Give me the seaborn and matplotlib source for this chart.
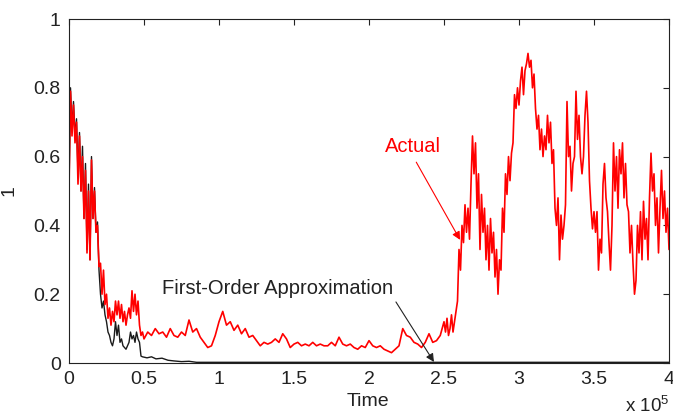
import numpy as np
import pandas as pd
import matplotlib
matplotlib.use("Agg")
import matplotlib.pyplot as plt
import seaborn as sns

# ---- data (time in units of 1e5) ----
actual_t_a = [i / 100 for i in range(0, 51)]
actual_v_a = [0.50, 0.79, 0.66, 0.75, 0.64, 0.70, 0.52, 0.66, 0.50, 0.60,
              0.42, 0.56, 0.32, 0.50, 0.30, 0.59, 0.42, 0.50, 0.38, 0.40,
              0.28, 0.29, 0.20, 0.27, 0.17, 0.20, 0.13, 0.16, 0.11, 0.15,
              0.12, 0.18, 0.14, 0.18, 0.13, 0.17, 0.12, 0.15, 0.11, 0.14,
              0.16, 0.13, 0.21, 0.15, 0.20, 0.14, 0.18, 0.11, 0.08, 0.09,
              0.07]
actual_t_b = [0.5 + 0.025 * i for i in range(1, 81)]
actual_v_b = [0.09, 0.08, 0.10, 0.085, 0.09, 0.075, 0.10, 0.08, 0.075, 0.09,
              0.08, 0.125, 0.09, 0.10, 0.075, 0.06, 0.045, 0.05, 0.08, 0.12,
              0.15, 0.11, 0.12, 0.095, 0.11, 0.085, 0.10, 0.075, 0.08, 0.065,
              0.05, 0.06, 0.055, 0.06, 0.07, 0.06, 0.085, 0.07, 0.045, 0.055,
              0.06, 0.05, 0.055, 0.05, 0.06, 0.05, 0.055, 0.05, 0.05, 0.06,
              0.05, 0.075, 0.055, 0.05, 0.055, 0.045, 0.04, 0.05, 0.045, 0.065,
              0.05, 0.045, 0.05, 0.04, 0.035, 0.03, 0.04, 0.05, 0.10, 0.08,
              0.075, 0.06, 0.055, 0.045, 0.06, 0.085, 0.06, 0.065, 0.08, 0.12]
actual_t_c = [2.5 + 0.01 * i for i in range(1, 151)]
actual_v_c = [0.09, 0.13, 0.08, 0.10, 0.14, 0.09, 0.12, 0.15, 0.18, 0.33,
              0.27, 0.40, 0.35, 0.46, 0.38, 0.45, 0.36, 0.52, 0.66, 0.55,
              0.64, 0.45, 0.55, 0.33, 0.49, 0.38, 0.45, 0.30, 0.40, 0.27,
              0.42, 0.32, 0.38, 0.25, 0.33, 0.20, 0.30, 0.27, 0.45, 0.38,
              0.55, 0.49, 0.60, 0.53, 0.61, 0.64, 0.78, 0.74, 0.80, 0.75,
              0.82, 0.86, 0.78, 0.85, 0.87, 0.90, 0.86, 0.88, 0.80, 0.84,
              0.74, 0.68, 0.72, 0.62, 0.68, 0.60, 0.66, 0.62, 0.72, 0.64,
              0.70, 0.58, 0.62, 0.45, 0.40, 0.48, 0.30, 0.43, 0.36, 0.40,
              0.46, 0.76, 0.60, 0.63, 0.50, 0.58, 0.60, 0.79, 0.65, 0.72,
              0.60, 0.55, 0.60, 0.72, 0.79, 0.70, 0.53, 0.45, 0.39, 0.44,
              0.38, 0.44, 0.27, 0.36, 0.32, 0.52, 0.58, 0.48, 0.44, 0.35,
              0.27, 0.40, 0.64, 0.50, 0.60, 0.45, 0.62, 0.55, 0.64, 0.48,
              0.58, 0.46, 0.44, 0.32, 0.40, 0.29, 0.20, 0.24, 0.40, 0.32,
              0.44, 0.30, 0.47, 0.36, 0.42, 0.30, 0.48, 0.61, 0.50, 0.55,
              0.40, 0.48, 0.32, 0.45, 0.56, 0.42, 0.50, 0.38, 0.45, 0.33]

approx_t = [i / 100 for i in range(0, 50)] + [0.52, 0.55, 0.58, 0.62, 0.66,
                                              0.70, 0.75, 0.80, 0.85, 4.0]
approx_v = [0.50, 0.80, 0.68, 0.76, 0.66, 0.71, 0.55, 0.67, 0.50, 0.63,
            0.42, 0.58, 0.33, 0.52, 0.30, 0.60, 0.42, 0.51, 0.38, 0.41,
            0.27, 0.20, 0.16, 0.18, 0.14, 0.12, 0.09, 0.08, 0.06, 0.05,
            0.07, 0.12, 0.08, 0.11, 0.06, 0.07, 0.05, 0.045, 0.04, 0.05,
            0.06, 0.09, 0.07, 0.08, 0.06, 0.09, 0.07, 0.06, 0.02, 0.018,
            0.015, 0.018, 0.012, 0.014, 0.008, 0.006, 0.004, 0.005, 0.002, 0.002]

x_ticks = [0, 0.5, 1, 1.5, 2, 2.5, 3, 3.5, 4]
x_tick_labels = ["0", "0.5", "1", "1.5", "2", "2.5", "3", "3.5", "4"]
y_ticks = [0, 0.2, 0.4, 0.6, 0.8, 1]
y_tick_labels = ["0", "0.2", "0.4", "0.6", "0.8", "1"]

actual = pd.DataFrame({"t": actual_t_a + actual_t_b + actual_t_c,
                       "v": actual_v_a + actual_v_b + actual_v_c})
approx = pd.DataFrame({"t": approx_t, "v": approx_v})

sns.set_style("white")
plt.rcParams["font.family"] = ["Liberation Sans", "DejaVu Sans"]
plt.rcParams["mathtext.fontset"] = "custom"
plt.rcParams["mathtext.rm"] = "Liberation Sans"

FS = 14
fig = plt.figure(figsize=(6.73, 4.18), dpi=100)
ax = fig.add_axes([69 / 673, 55 / 418, 600 / 673, 344 / 418])

sns.lineplot(data=approx, x="t", y="v", ax=ax, color="#1a1a1a", lw=1.0,
             estimator=None, sort=False)
sns.lineplot(data=actual, x="t", y="v", ax=ax, color="#ff0000", lw=1.2,
             estimator=None, sort=False)

ax.set_xlim(0, 4)
ax.set_ylim(0, 1)
ax.set_xticks(x_ticks)
ax.set_xticklabels(x_tick_labels)
ax.set_yticks(y_ticks)
ax.set_yticklabels(y_tick_labels)
ax.tick_params(direction="in", length=4, width=0.8, top=True, right=True,
               labelsize=FS, colors="#222222", pad=6)
for s in ax.spines.values():
    s.set_color("#222222")
    s.set_linewidth(0.8)
    s.set_visible(True)

ax.set_xlabel("Time", fontsize=FS, color="#222222")
ax.set_ylabel("1", fontsize=FS, color="#222222")
ax.xaxis.set_label_coords(0.498, -0.088)
ax.yaxis.set_label_coords(-0.085, 0.5)

ax.text(1.0, -0.093, r"x 10$^5$", transform=ax.transAxes, ha="right",
        va="top", fontsize=13.5, color="#222222")

ax.annotate("Actual", xy=(2.607, 0.358), xytext=(2.107, 0.628),
            color="#ff0000", fontsize=14.5, ha="left", va="center",
            arrowprops=dict(arrowstyle="-|>", color="#ff0000", lw=0.8,
                            shrinkA=2, shrinkB=0, mutation_scale=12,
                            relpos=(0.5, 0.0)))
ax.annotate("First-Order Approximation", xy=(2.433, 0.003), xytext=(0.62, 0.218),
            color="#222222", fontsize=14.5, ha="left", va="center",
            arrowprops=dict(arrowstyle="-|>", color="#222222", lw=0.8,
                            shrinkA=1, shrinkB=0, mutation_scale=12,
                            relpos=(1.0, 0.0)))

fig.savefig("out.png", dpi=100)
